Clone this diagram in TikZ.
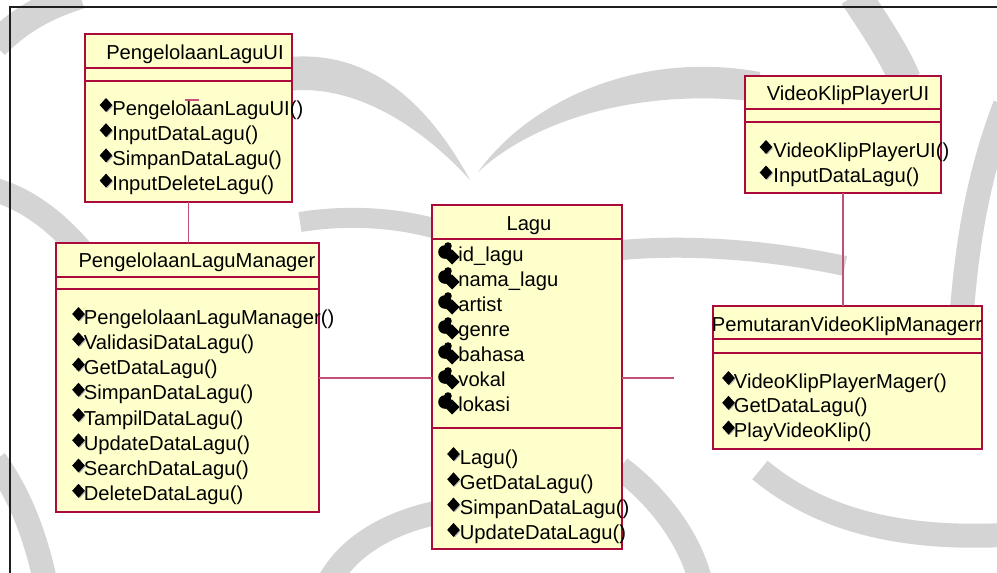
\documentclass[tikz,border=0pt]{standalone}
\usepackage{fontspec}
\setmainfont{Liberation Sans}
\definecolor{umlfill}{RGB}{255,255,204}
\definecolor{umlline}{RGB}{170,10,60}
\definecolor{linkline}{RGB}{196,80,120}
\definecolor{framecol}{RGB}{30,30,30}
\definecolor{markgray}{RGB}{212,212,212}
\begin{document}
\begin{tikzpicture}[x=0.5pt,y=-0.5pt,
  classbox/.style={draw=umlline, fill=umlfill, line width=1pt, anchor=north west, inner sep=0pt, outer sep=0pt},
  sepline/.style={draw=umlline, line width=0.75pt},
  link/.style={draw=linkline, line width=0.65pt},
  swoosh/.style={draw=markgray, line cap=butt},
  txt/.style={anchor=base west, inner sep=0pt, font=\fontsize{10.1}{12}\selectfont},
  ttl/.style={anchor=base, inner sep=0pt, font=\fontsize{10.1}{12}\selectfont},
  opmark/.pic={
    \fill[black!30] (1.2,-5.5) -- (7,1.2) -- (1.2,7.5) -- (-5,1.2) -- cycle;
    \fill[black] (0,-7) -- (6.3,0) -- (0,7) -- (-6.3,0) -- cycle;
  },
  attrmark/.pic={
    \fill[black] (-7,-9) circle (6.8);
    \fill[black] (-4,-15) circle (3.8);
    \fill[black] (0,-11.5) -- (7.5,-4) -- (0,3.5) -- (-7.5,-4) -- cycle;
  }
]
\useasboundingbox (0,0) rectangle (997,573);
\fill[white] (0,0) rectangle (997,573);

% faint logo swooshes in the page background
\begin{scope}
  \draw[swoosh, line width=14pt] (-5,45) .. controls (20,20) and (45,6) .. (80,-5);
  \draw[swoosh, line width=12pt] (-5,190) .. controls (30,200) and (60,225) .. (85,255);
  \draw[swoosh, line width=12pt] (-5,460) .. controls (20,495) and (35,535) .. (45,580);
  \fill[markgray] (280,58) .. controls (340,50) and (410,70) .. (470,180)
                   .. controls (420,125) and (350,80) .. (280,92) -- cycle;
  \fill[markgray] (478,172) .. controls (530,100) and (640,50) .. (760,72)
                   -- (760,102) .. controls (650,88) and (540,115) .. (478,172) -- cycle;
  \draw[swoosh, line width=16pt] (855,-5) .. controls (875,25) and (895,55) .. (905,80);
  \draw[swoosh, line width=12pt] (1005,105) .. controls (980,170) and (968,235) .. (962,310);
  \draw[swoosh, line width=10pt] (622,250) .. controls (690,244) and (770,250) .. (845,266);
  \draw[swoosh, line width=10pt] (300,222) .. controls (350,214) and (400,218) .. (440,230);
  \draw[swoosh, line width=12pt] (330,580) .. controls (350,545) and (390,522) .. (440,512);
  \draw[swoosh, line width=12pt] (620,468) .. controls (660,498) and (690,540) .. (700,580);
  \draw[swoosh, line width=12pt] (760,470) .. controls (820,520) and (900,540) .. (1005,535);
\end{scope}

% frame of the diagram sheet
\draw[framecol, line width=0.65pt] (997,7) -- (10,7) -- (10,573);

% ---------- PengelolaanLaguUI ----------
\node[classbox, minimum width=103.5pt, minimum height=84pt] (ui) at (85,34) {};
\draw[sepline] (85,68) -- (292,68);
\draw[sepline] (85,81) -- (292,81);
\node[ttl] (uiT) at (195,59) {PengelolaanLaguUI};
\foreach \t [count=\i from 0] in {PengelolaanLaguUI(),InputDataLagu(),SimpanDataLagu(),InputDeleteLagu()} {
  \pgfmathsetmacro\yb{115+25.2*\i}
  \pic at (106,\yb-10) {opmark};
  \node[txt] (uiM\i) at (112,\yb) {\t};
}
\draw[link] (185,100) -- (199,100);

% ---------- PengelolaanLaguManager ----------
\node[classbox, minimum width=131.5pt, minimum height=134.5pt] (mgr) at (56,243) {};
\draw[sepline] (56,277) -- (319,277);
\draw[sepline] (56,289) -- (319,289);
\node[ttl] (mgrT) at (197,267) {PengelolaanLaguManager};
\foreach \t [count=\i from 0] in {PengelolaanLaguManager(),ValidasiDataLagu(),GetDataLagu(),SimpanDataLagu(),TampilDataLagu(),UpdateDataLagu(),SearchDataLagu(),DeleteDataLagu()} {
  \pgfmathsetmacro\yb{324+25.25*\i}
  \pic at (78.5,\yb-10) {opmark};
  \node[txt] (mgrM\i) at (83.5,\yb) {\t};
}

% ---------- Lagu ----------
\node[classbox, minimum width=95pt, minimum height=172pt] (lagu) at (432,205) {};
\draw[sepline] (432,239) -- (622,239);
\draw[sepline] (432,428) -- (622,428);
\node[ttl] (laguT) at (529,230) {Lagu};
\foreach \t [count=\i from 0] in {id\_lagu,nama\_lagu,artist,genre,bahasa,vokal,lokasi} {
  \pgfmathsetmacro\yb{261+25*\i}
  \pic at (452,\yb) {attrmark};
  \node[txt] (laguA\i) at (458,\yb) {\t};
}
\foreach \t [count=\i from 0] in {Lagu(),GetDataLagu(),SimpanDataLagu(),UpdateDataLagu()} {
  \pgfmathsetmacro\yb{464+25.3*\i}
  \pic at (453.5,\yb-10) {opmark};
  \node[txt] (laguM\i) at (459.5,\yb) {\t};
}

% ---------- VideoKlipPlayerUI ----------
\node[classbox, minimum width=98pt, minimum height=58.5pt] (vui) at (745,76) {};
\draw[sepline] (745,109) -- (941,109);
\draw[sepline] (745,122) -- (941,122);
\node[ttl] (vuiT) at (848,100) {VideoKlipPlayerUI};
\foreach \t [count=\i from 0] in {VideoKlipPlayerUI(),InputDataLagu()} {
  \pgfmathsetmacro\yb{157+25.5*\i}
  \pic at (766,\yb-10) {opmark};
  \node[txt] (vuiM\i) at (773,\yb) {\t};
}

% ---------- PemutaranVideoKlipManagerr ----------
\node[classbox, minimum width=134.5pt, minimum height=71.5pt] (pvm) at (713,306) {};
\draw[sepline] (713,339) -- (982,339);
\draw[sepline] (713,353) -- (982,353);
\node[ttl] (pvmT) at (847,331.5) {PemutaranVideoKlipManagerr};
\foreach \t [count=\i from 0] in {VideoKlipPlayerMager(),GetDataLagu(),PlayVideoKlip()} {
  \pgfmathsetmacro\yb{388+24.8*\i}
  \pic at (728.5,\yb-10) {opmark};
  \node[txt] (pvmM\i) at (733.5,\yb) {\t};
}

% ---------- associations ----------
\coordinate (rowY) at (0,378);
\coordinate (laguEnd) at (674,378);
\draw[link] (ui.south) -- (ui.south |- mgr.north);
\draw[link] (mgr.east |- rowY) -- (lagu.west |- rowY);
\draw[link] (lagu.east |- rowY) -- (laguEnd);
\draw[link] (vui.south) -- (vui.south |- pvm.north);
\end{tikzpicture}
\end{document}
